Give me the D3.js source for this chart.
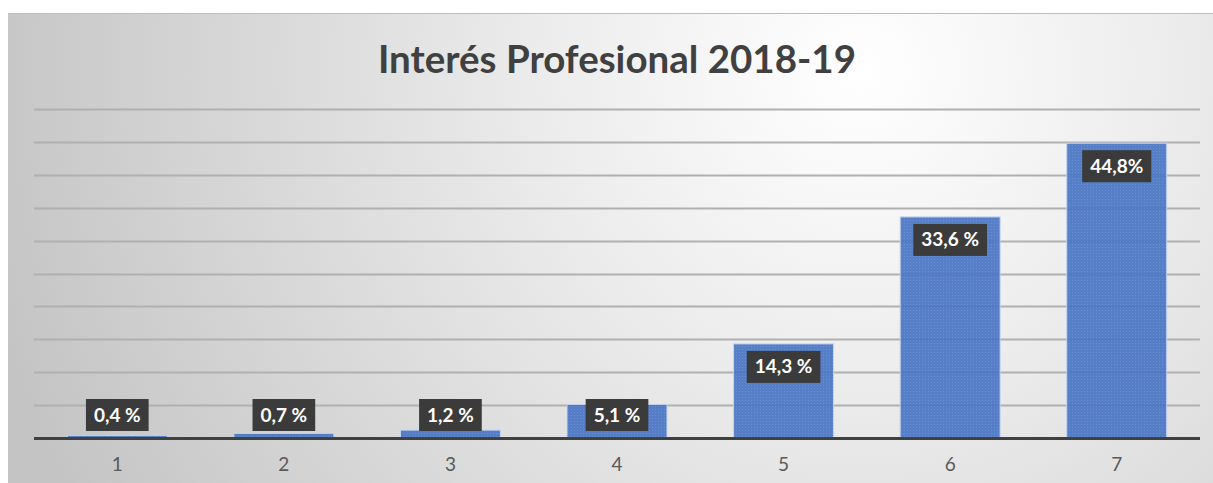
<!DOCTYPE html>
<html>
<head>
<meta charset="utf-8">
<script src="https://cdn.jsdelivr.net/npm/d3@7"></script>
<style>
  html, body { margin: 0; padding: 0; background: #fff; }
  svg { display: block; }
</style>
</head>
<body>
<svg id="chart" width="1213" height="483"></svg>
<script>
const categories = ["1", "2", "3", "4", "5", "6", "7"];
const values = [0.4, 0.7, 1.2, 5.1, 14.3, 33.6, 44.8];
const labels = ["0,4 %", "0,7 %", "1,2 %", "5,1 %", "14,3 %", "33,6 %", "44,8%"];
const gridTicks = [5, 10, 15, 20, 25, 30, 35, 40, 45, 50];
const title = "Interés Profesional 2018-19";

const svg = d3.select("#chart");
const W = 1213, H = 483;
const area = { x: 8, y: 13, w: W - 8, h: H - 13 };
const margin = { left: 34, right: 13, top: 109, bottom: 45 };
const baseline = H - margin.bottom; // 438

const defs = svg.append("defs");
const bg = defs.append("radialGradient")
  .attr("id", "bg")
  .attr("gradientUnits", "userSpaceOnUse")
  .attr("cx", 860).attr("cy", 70).attr("r", 900);
bg.append("stop").attr("offset", "0%").attr("stop-color", "#ffffff");
bg.append("stop").attr("offset", "35%").attr("stop-color", "#ececec");
bg.append("stop").attr("offset", "100%").attr("stop-color", "#c4c4c4");

const pat = defs.append("pattern")
  .attr("id", "dots")
  .attr("patternUnits", "userSpaceOnUse")
  .attr("width", 3).attr("height", 3);
pat.append("rect").attr("width", 3).attr("height", 3).attr("fill", "#4673c3");
pat.append("rect").attr("x", 1).attr("y", 1).attr("width", 1).attr("height", 1).attr("fill", "#5b86d0");

// chart background
svg.append("rect")
  .attr("x", area.x).attr("y", area.y)
  .attr("width", area.w).attr("height", area.h)
  .attr("fill", "url(#bg)");
svg.append("line")
  .attr("x1", area.x).attr("x2", W)
  .attr("y1", area.y + 0.5).attr("y2", area.y + 0.5)
  .attr("stroke", "#bdbdbd").attr("stroke-width", 1);

const x = d3.scaleBand()
  .domain(categories)
  .range([margin.left, W - margin.right])
  .paddingInner(0.4)
  .paddingOuter(0.2);

const y = d3.scaleLinear()
  .domain([0, 50])
  .range([baseline, margin.top]);

// gridlines
svg.append("g")
  .selectAll("line")
  .data(gridTicks)
  .join("line")
  .attr("x1", margin.left).attr("x2", W - margin.right)
  .attr("y1", d => Math.round(y(d)) + 0.5)
  .attr("y2", d => Math.round(y(d)) + 0.5)
  .attr("stroke", "#b0b0b0")
  .attr("stroke-width", 2);

// bars
svg.append("g")
  .selectAll("rect")
  .data(values)
  .join("rect")
  .attr("x", (d, i) => x(categories[i]))
  .attr("y", d => y(d))
  .attr("width", x.bandwidth())
  .attr("height", d => baseline - y(d))
  .attr("fill", "url(#dots)")
  .attr("fill-opacity", 0.9)
  .attr("stroke", "#c5d4ee")
  .attr("stroke-width", 1);

// baseline
svg.append("line")
  .attr("x1", margin.left).attr("x2", W - margin.right)
  .attr("y1", baseline + 0.5).attr("y2", baseline + 0.5)
  .attr("stroke", "#404040")
  .attr("stroke-width", 3);

// x axis labels
const xAxis = svg.append("g")
  .attr("transform", `translate(0,${baseline + 2})`)
  .call(d3.axisBottom(x).tickSize(0).tickPadding(18));
xAxis.select(".domain").remove();
xAxis.selectAll("text")
  .attr("font-family", "Lato, 'Open Sans', sans-serif")
  .attr("font-size", 19)
  .attr("fill", "#595959");

// data labels
const boxH = 32;
const lab = svg.append("g")
  .selectAll("g")
  .data(values)
  .join("g")
  .attr("transform", (d, i) => {
    const cx = x(categories[i]) + x.bandwidth() / 2;
    const top = Math.min(y(d) + 7, baseline - 39);
    return `translate(${cx},${top})`;
  });
lab.append("text")
  .text((d, i) => labels[i])
  .attr("text-anchor", "middle")
  .attr("y", boxH / 2 + 6.5)
  .attr("font-family", "Lato, 'Open Sans', sans-serif")
  .attr("font-weight", "bold")
  .attr("font-size", 19)
  .attr("fill", "#ffffff");
lab.each(function () {
  const g = d3.select(this);
  const tw = g.select("text").node().getComputedTextLength();
  g.insert("rect", "text")
    .attr("x", -tw / 2 - 8)
    .attr("y", 0)
    .attr("width", tw + 16)
    .attr("height", boxH)
    .attr("fill", "#3b3b3b");
});

// title
svg.append("text")
  .attr("x", 617)
  .attr("y", 73)
  .attr("text-anchor", "middle")
  .attr("font-family", "Lato, 'Open Sans', sans-serif")
  .attr("font-weight", "bold")
  .attr("font-size", 38.5)
  .attr("fill", "#404040")
  .text(title);
</script>
</body>
</html>
